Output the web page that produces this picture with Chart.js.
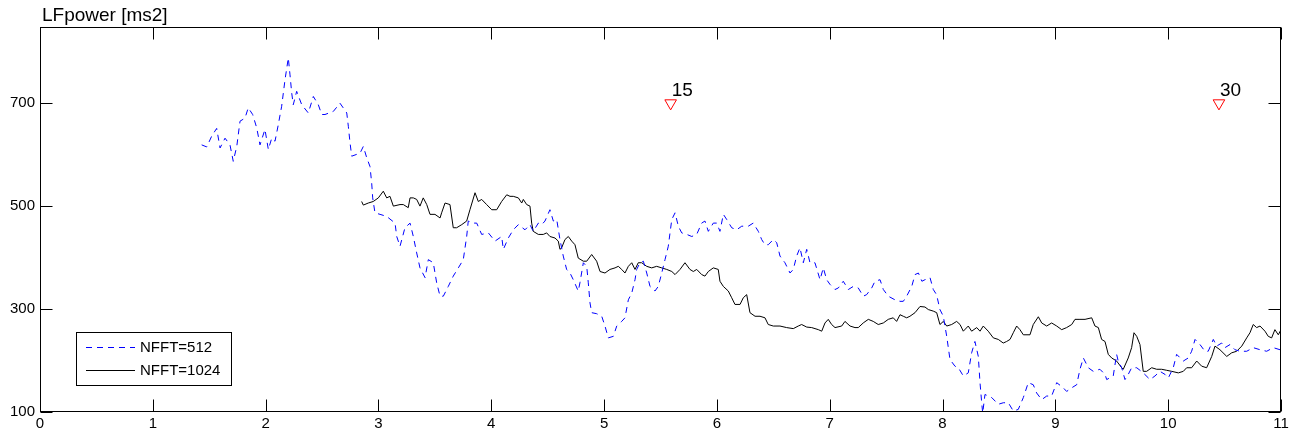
<!DOCTYPE html>
<html>
<head>
<meta charset="utf-8">
<script src="https://cdn.jsdelivr.net/npm/chart.js@4/dist/chart.umd.min.js"></script>
<style>
html,body{margin:0;padding:0;background:#fff;}
#wrap{width:1294px;height:438px;position:relative;}
</style>
</head>
<body>
<div id="wrap"><canvas id="c"></canvas></div>
<script>
const titleText = "LFpower [ms2]";
const xTickValues = [0,1,2,3,4,5,6,7,8,9,10,11];
const yTickValues = [100,300,500,700];
const seriesNames = ["NFFT=512","NFFT=1024"];

const blueX = [1.433,1.478,1.522,1.566,1.596,1.640,1.684,1.713,1.744,1.773,
1.817,1.846,1.885,1.921,1.950,1.994,2.024,2.054,2.083,2.112,
2.142,2.172,2.201,2.216,2.231,2.245,2.275,2.320,2.378,2.423,
2.467,2.497,2.526,2.600,2.659,2.719,2.733,2.748,2.763,2.837,
2.866,2.896,2.925,2.940,2.949,2.969,3.014,3.073,3.147,3.162,
3.191,3.235,3.280,3.309,3.339,3.368,3.413,3.442,3.486,3.516,
3.546,3.575,3.619,3.663,3.708,3.752,3.782,3.796,3.841,3.871,
3.915,3.974,4.033,4.092,4.107,4.151,4.195,4.240,4.299,4.343,
4.372,4.417,4.447,4.476,4.520,4.550,4.580,4.609,4.638,4.668,
4.698,4.727,4.771,4.786,4.816,4.846,4.860,4.875,4.890,4.934,
4.979,5.008,5.037,5.082,5.112,5.156,5.185,5.215,5.245,5.274,
5.289,5.318,5.348,5.378,5.407,5.451,5.480,5.511,5.540,5.569,
5.600,5.629,5.658,5.688,5.733,5.777,5.821,5.865,5.894,5.924,
5.968,5.998,6.027,6.057,6.087,6.131,6.175,6.220,6.278,6.322,
6.367,6.397,6.426,6.455,6.500,6.530,6.559,6.603,6.648,6.677,
6.707,6.736,6.766,6.796,6.825,6.869,6.914,6.943,6.973,7.002,
7.047,7.076,7.120,7.165,7.209,7.253,7.297,7.327,7.372,7.401,
7.446,7.475,7.519,7.578,7.623,7.652,7.682,7.727,7.756,7.786,
7.817,7.844,7.889,7.918,7.947,7.977,8.007,8.037,8.066,8.110,
8.140,8.184,8.228,8.258,8.287,8.317,8.332,8.347,8.356,8.376,
8.436,8.494,8.539,8.583,8.627,8.671,8.716,8.760,8.804,8.834,
8.879,8.923,8.967,9.012,9.070,9.100,9.145,9.189,9.218,9.248,
9.292,9.336,9.395,9.440,9.455,9.513,9.543,9.557,9.588,9.617,
9.646,9.676,9.721,9.779,9.839,9.883,9.927,9.972,10.001,10.045,
10.075,10.134,10.178,10.208,10.238,10.282,10.326,10.355,10.400,10.430,
10.474,10.503,10.548,10.592,10.636,10.696,10.754,10.814,10.873,10.932,10.991];

const blueY = [619,615,636,651,613,632,619,587,616,665,
671,691,678,652,619,649,610,632,626,658,
694,746,788,755,720,697,723,697,681,713,
697,678,678,684,700,681,655,623,597,603,
616,594,577,545,516,487,484,480,467,441,
422,458,467,441,409,380,361,396,390,351,
325,325,344,364,380,396,441,471,467,467,
445,448,432,441,416,438,454,464,454,464,
451,467,464,471,493,471,474,435,403,377,
370,357,335,351,390,383,351,312,293,291,
286,267,244,247,267,276,283,318,331,357,
377,390,393,370,344,335,344,370,396,422,
474,487,461,448,445,441,445,467,471,451,
467,467,451,484,474,458,454,461,461,467,
451,435,425,425,435,429,403,390,370,377,
403,419,390,416,390,390,357,380,357,348,
338,341,354,338,344,341,325,328,341,354,
357,338,325,318,315,315,325,344,367,370,
354,357,361,338,328,299,286,247,202,189,
186,170,176,215,237,208,157,118,98,134,
128,115,118,118,102,105,128,157,153,137,
124,131,131,157,147,140,147,153,183,205,
186,179,183,173,163,170,212,199,186,163,
173,186,186,176,163,170,179,173,166,186,
212,199,205,218,241,231,218,218,241,228,
234,225,231,221,218,218,225,221,218,225,221];

const blackX = [2.851,2.866,2.910,2.954,2.999,3.043,3.073,3.102,3.132,3.191,
3.220,3.264,3.280,3.309,3.339,3.368,3.397,3.428,3.457,3.501,
3.546,3.560,3.590,3.634,3.663,3.693,3.738,3.782,3.811,3.856,
3.885,3.915,3.959,4.004,4.048,4.092,4.137,4.166,4.195,4.240,
4.270,4.284,4.314,4.343,4.358,4.372,4.417,4.461,4.491,4.520,
4.565,4.594,4.609,4.624,4.653,4.683,4.713,4.742,4.771,4.816,
4.846,4.890,4.934,4.964,5.008,5.052,5.097,5.126,5.156,5.185,
5.215,5.245,5.274,5.303,5.333,5.378,5.422,5.466,5.511,5.555,
5.600,5.629,5.673,5.717,5.761,5.791,5.821,5.865,5.894,5.924,
5.968,6.012,6.027,6.057,6.101,6.131,6.160,6.205,6.234,6.264,
6.293,6.338,6.382,6.426,6.455,6.500,6.559,6.618,6.677,6.721,
6.751,6.796,6.840,6.899,6.929,6.958,6.987,7.017,7.047,7.106,
7.135,7.180,7.224,7.253,7.297,7.342,7.386,7.430,7.475,7.519,
7.563,7.593,7.623,7.652,7.682,7.711,7.756,7.800,7.844,7.874,
7.918,7.948,7.977,8.007,8.037,8.081,8.125,8.155,8.184,8.228,
8.258,8.303,8.332,8.361,8.405,8.450,8.494,8.538,8.568,8.598,
8.627,8.657,8.686,8.716,8.775,8.804,8.849,8.879,8.923,8.967,
9.012,9.056,9.100,9.145,9.174,9.218,9.263,9.322,9.351,9.381,
9.410,9.440,9.469,9.499,9.543,9.588,9.602,9.646,9.676,9.697,
9.721,9.750,9.779,9.809,9.854,9.898,9.942,9.987,10.031,10.090,
10.134,10.164,10.208,10.253,10.297,10.341,10.386,10.415,10.459,10.519,
10.563,10.607,10.652,10.696,10.725,10.754,10.784,10.814,10.858,10.887,10.917,10.946,10.976,11.0];

const blackY = [509,502,506,509,516,529,516,519,500,503,
503,497,516,516,513,500,516,503,484,484,
477,487,506,503,458,458,464,471,493,526,
509,513,503,493,493,509,522,519,519,516,
506,513,503,500,467,451,445,445,448,441,
438,432,416,419,435,441,432,425,399,393,
393,406,393,373,370,377,380,383,377,370,
383,390,377,390,390,383,380,383,380,377,
373,367,377,390,377,373,377,367,364,373,
380,377,354,344,335,322,309,309,322,328,
293,286,286,283,270,267,267,264,262,267,
270,265,264,260,257,273,280,270,264,267,
276,267,264,264,273,280,276,270,273,280,
283,276,289,286,283,286,293,305,304,299,
296,293,270,276,267,270,276,270,257,267,
257,264,257,267,257,244,241,234,237,241,
254,267,260,250,250,270,285,273,267,273,
267,260,264,270,280,280,280,283,267,264,
241,237,212,205,199,186,183,205,225,254,
247,231,179,179,186,183,183,181,179,176,
179,186,186,199,189,186,208,228,221,208,
215,218,228,244,254,270,264,267,257,247,244,260,250,260];

const markerX = [5.59, 10.45];
const markerY = [700, 700];
const markerLabels = ["15", "30"];

const FONT = "'Liberation Sans', Arial, Helvetica, sans-serif";

function pts(xs, ys){ const n = Math.min(xs.length, ys.length); const a=[]; for(let i=0;i<n;i++) a.push({x:xs[i], y:ys[i]}); return a; }

const framePlugin = {
  id: 'frame',
  afterDraw(chart){
    const ctx = chart.ctx, a = chart.chartArea;
    const xs = chart.scales.x, ys = chart.scales.y;
    const L = Math.round(a.left)+0.5, R = Math.round(a.right)-0.5, T = Math.round(a.top)+0.5, B = Math.round(a.bottom)-0.5;
    ctx.save();
    ctx.strokeStyle = '#000';
    ctx.lineWidth = 1;
    ctx.strokeRect(L, T, R-L, B-T);
    const tl = 12;
    ctx.beginPath();
    xTickValues.forEach(v => {
      const p = Math.round(xs.getPixelForValue(v)) + 0.5;
      ctx.moveTo(p, B); ctx.lineTo(p, B - tl);
      ctx.moveTo(p, T); ctx.lineTo(p, T + tl);
    });
    yTickValues.forEach(v => {
      const p = Math.round(ys.getPixelForValue(v)) + 0.5;
      ctx.moveTo(L, p); ctx.lineTo(L + tl, p);
      ctx.moveTo(R, p); ctx.lineTo(R - tl, p);
    });
    ctx.stroke();

    // title
    ctx.fillStyle = '#000';
    ctx.font = '19px ' + FONT;
    ctx.textAlign = 'left';
    ctx.textBaseline = 'alphabetic';
    ctx.fillText(titleText, a.left + 2, 21);

    // marker labels
    const mset = chart.getDatasetMeta(2);
    mset.data.forEach((el, i) => {
      ctx.fillText(markerLabels[i], el.x + 1, el.y - 7);
    });

    // legend
    const lx = a.left + 36, ly = a.bottom - 80, lw = 155, lh = 53;
    ctx.fillStyle = '#fff';
    ctx.fillRect(lx, ly, lw, lh);
    ctx.strokeStyle = '#000';
    ctx.strokeRect(Math.round(lx)+0.5, Math.round(ly)+0.5, lw, lh);
    const ds = chart.data.datasets;
    [0,1].forEach(i => {
      const yy = Math.round(ly + 15 + i*23) + 0.5;
      ctx.beginPath();
      ctx.strokeStyle = ds[i].borderColor;
      ctx.setLineDash(ds[i].borderDash || []);
      ctx.moveTo(lx + 10, yy); ctx.lineTo(lx + 59, yy);
      ctx.stroke();
      ctx.setLineDash([]);
      ctx.fillStyle = '#000';
      ctx.font = '15px ' + FONT;
      ctx.textBaseline = 'middle';
      ctx.fillText(ds[i].label, lx + 64, yy);
    });
    ctx.restore();
  }
};

new Chart(document.getElementById('c'), {
  type: 'line',
  data: {
    datasets: [
      { label: seriesNames[0], data: pts(blueX, blueY), borderColor: '#0000ff', borderWidth: 1, borderDash: [6,5], pointRadius: 0, fill: false, tension: 0 },
      { label: seriesNames[1], data: pts(blackX, blackY), borderColor: '#000000', borderWidth: 1, pointRadius: 0, fill: false, tension: 0 },
      { label: 'markers', data: pts(markerX, markerY), showLine: false, pointStyle: 'triangle', rotation: 180, pointRadius: 6.7, pointBorderColor: '#ff0000', pointBackgroundColor: 'rgba(0,0,0,0)', pointBorderWidth: 1, borderColor: '#ff0000' }
    ]
  },
  options: {
    responsive: true,
    maintainAspectRatio: false,
    animation: false,
    parsing: true,
    layout: { padding: { top: 27, right: 13, left: 0, bottom: 0 } },
    plugins: { legend: { display: false }, tooltip: { enabled: false }, title: { display: false } },
    scales: {
      x: {
        type: 'linear', min: 0, max: 11,
        grid: { display: false, drawTicks: false },
        border: { display: false },
        ticks: { stepSize: 1, padding: 3, color: '#000', font: { family: FONT, size: 15 }, maxRotation: 0 },
        afterBuildTicks(s){ s.ticks = xTickValues.map(v => ({ value: v })); },
        afterFit(s){ s.height = 26; }
      },
      y: {
        type: 'linear', min: 100, max: 848,
        grid: { display: false, drawTicks: false },
        border: { display: false },
        ticks: { padding: 5, color: '#000', font: { family: FONT, size: 15 } },
        afterBuildTicks(s){ s.ticks = yTickValues.map(v => ({ value: v })); },
        afterFit(s){ s.width = 40; }
      }
    }
  },
  plugins: [framePlugin]
});
</script>
</body>
</html>
